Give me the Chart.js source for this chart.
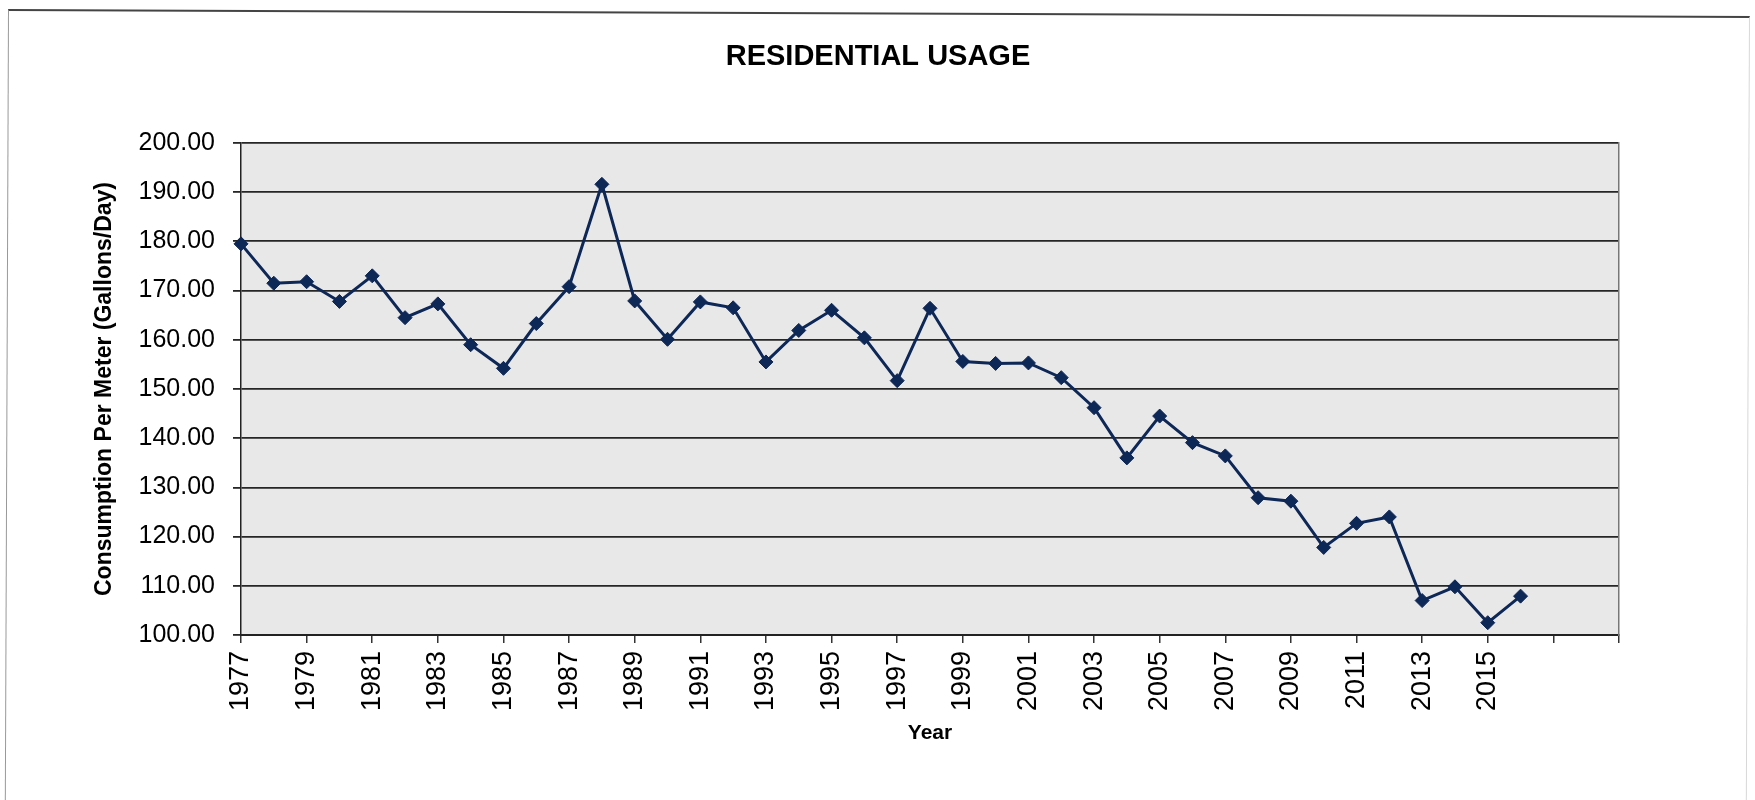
<!DOCTYPE html>
<html>
<head>
<meta charset="utf-8">
<title>Residential Usage</title>
<script src="https://cdn.jsdelivr.net/npm/chart.js@4/dist/chart.umd.min.js"></script>
<style>
    html, body { margin: 0; padding: 0; background: #fff; overflow: hidden; }
    #frame {
        position: absolute; left: 8px; top: 9px; width: 1740px; height: 800px;
        border-top: 2px solid #444; border-left: 1.5px solid #999; border-right: 1px solid #d8d8d8;
        transform: rotate(0.23deg); transform-origin: top left;
    }
    #wrap { position: absolute; left: 0; top: 0; width: 1755px; height: 800px; }
</style>
</head>
<body>
<div id="frame"></div>
<div id="wrap"><canvas id="chart"></canvas></div>
<script>
// Categories (Excel sheet had three empty rows after 2016)
const years = [
    '1977', '1978', '1979', '1980', '1981', '1982', '1983', '1984', '1985', '1986',
    '1987', '1988', '1989', '1990', '1991', '1992', '1993', '1994', '1995', '1996',
    '1997', '1998', '1999', '2000', '2001', '2002', '2003', '2004', '2005', '2006',
    '2007', '2008', '2009', '2010', '2011', '2012', '2013', '2014', '2015', '2016',
    '', '', ''
];

// Consumption per meter, gallons/day
const consumption = [
    179.5, 171.5, 171.8, 167.8, 173.0, 164.5, 167.3, 159.0, 154.2, 163.3,
    170.8, 191.6, 167.9, 160.1, 167.7, 166.5, 155.5, 161.9, 166.0, 160.4,
    151.7, 166.4, 155.6, 155.2, 155.3, 152.3, 146.2, 136.0, 144.5, 139.1,
    136.4, 127.9, 127.2, 117.8, 122.7, 124.0, 107.0, 109.8, 102.5, 107.9
];

const yMin = 100;
const yMax = 200;
const yStep = 10;

const FONT = "'Liberation Sans', Arial, sans-serif";

// light grey plot area like the Excel chart
const plotBackground = {
    id: 'plotBackground',
    beforeDraw(chart) {
        const { ctx, chartArea } = chart;
        ctx.save();
        ctx.fillStyle = '#e8e8e8';
        ctx.fillRect(chartArea.left, chartArea.top, chartArea.right - chartArea.left, chartArea.bottom - chartArea.top);
        ctx.restore();
    }
};

const ctx = document.getElementById('chart').getContext('2d');
new Chart(ctx, {
    type: 'line',
    data: {
        labels: years,
        datasets: [{
            label: 'Residential',
            data: consumption,
            borderColor: '#0d2757',
            backgroundColor: '#0d2757',
            borderWidth: 3,
            pointStyle: 'rectRot',
            pointRadius: 7,
            pointBackgroundColor: '#0d2757',
            pointBorderColor: '#0d2757',
            pointBorderWidth: 1,
            tension: 0,
            yAxisID: 'y'
        }]
    },
    options: {
        responsive: true,
        maintainAspectRatio: false,
        animation: false,
        layout: { padding: { left: 85, right: 84, top: 0, bottom: 40 } },
        plugins: {
            legend: { display: false },
            tooltip: { enabled: false },
            title: {
                display: true,
                text: 'RESIDENTIAL USAGE',
                color: '#000',
                font: { family: FONT, size: 29, weight: 'bold' },
                padding: { top: 40, bottom: 68.2 }
            }
        },
        scales: {
            x: {
                offset: false,
                grid: {
                    display: true,
                    drawOnChartArea: false,
                    drawTicks: true,
                    tickLength: 8,
                    lineWidth: 1.5,
                    color: c => (c.index % 2 === 0 ? '#333' : 'rgba(0,0,0,0)')
                },
                border: { display: true, color: '#222', width: 2 },
                ticks: {
                    autoSkip: false,
                    minRotation: 90,
                    maxRotation: 90,
                    padding: 8,
                    color: '#000',
                    font: { family: FONT, size: 27 },
                    callback: function (value, index) {
                        return index % 2 === 0 ? this.getLabelForValue(value) : '';
                    }
                },
                title: {
                    display: true,
                    text: 'Year',
                    color: '#000',
                    font: { family: FONT, size: 21, weight: 'bold' },
                    padding: { top: 0, bottom: 14 }
                },
                afterFit: scale => { scale.height = 125; }
            },
            y: {
                position: 'left',
                min: yMin,
                max: yMax,
                grid: {
                    color: '#262626',
                    lineWidth: 1.8,
                    tickLength: 8
                },
                border: { display: true, color: '#222', width: 1.5 },
                ticks: {
                    stepSize: yStep,
                    padding: 18,
                    color: '#000',
                    font: { family: FONT, size: 25 },
                    callback: v => v.toFixed(2)
                },
                title: {
                    display: true,
                    text: 'Consumption Per Meter (Gallons/Day)',
                    color: '#000',
                    font: { family: FONT, size: 23, weight: 'bold' },
                    padding: { top: 6, bottom: 0 }
                },
                afterFit: scale => { scale.width = 156; }
            },
            // right edge of the plot area
            yRight: {
                position: 'right',
                min: yMin,
                max: yMax,
                grid: { display: false },
                border: { display: true, color: '#777', width: 1.5 },
                ticks: { display: false },
                afterFit: scale => { scale.width = 52; }
            }
        }
    },
    plugins: [plotBackground]
});
</script>
</body>
</html>
